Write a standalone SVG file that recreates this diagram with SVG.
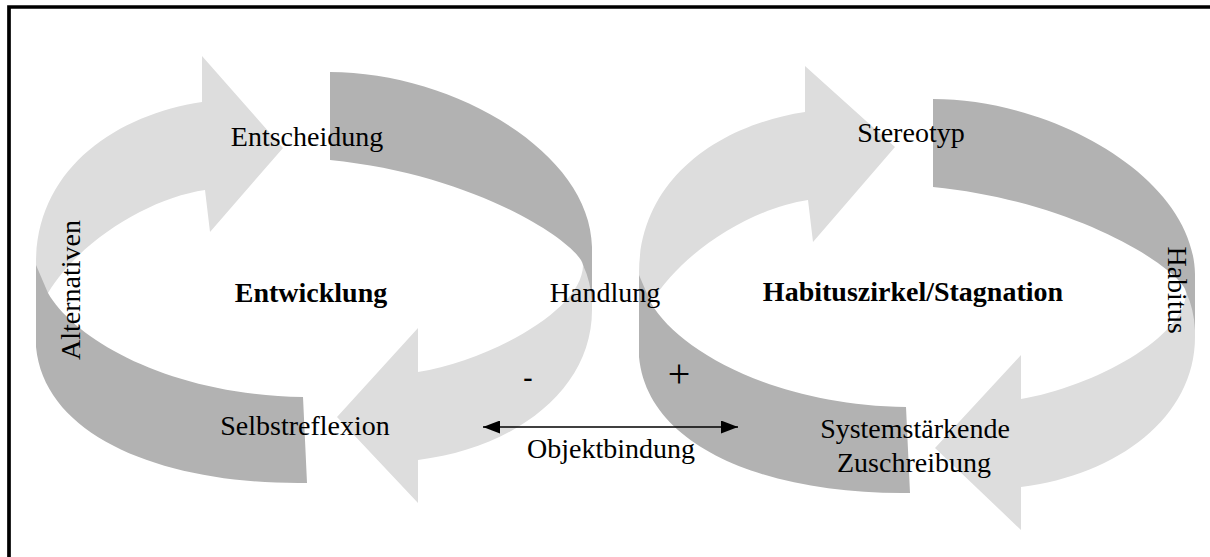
<svg xmlns="http://www.w3.org/2000/svg" width="1210" height="557" viewBox="0 0 1210 557">
<defs>
<style>
.light{fill:#dddddd}
.dark{fill:#b2b2b2}
.t{font-family:"Liberation Serif","Times New Roman",serif;font-size:28px;fill:#000;text-anchor:middle}
.b{font-weight:bold}
.frame{fill:none;stroke:#000;stroke-width:3.7}
.conn{stroke:#000;stroke-width:1.6;fill:none}
</style>
<marker id="ah" viewBox="0 0 17 13" refX="17" refY="6.5" markerWidth="17" markerHeight="13" markerUnits="userSpaceOnUse" orient="auto-start-reverse">
<path d="M0,0 L17,6.5 L0,13 Z" fill="#000"/>
</marker>
</defs>
<rect width="1210" height="557" fill="#fff"/>
<path class="frame" d="M9,557 L9,7 L1210,7"/>

<g id="loop-left">
<path class="light" d="M36,300 L36,265 C35,170 115,115 202,102 L202,56 L283,148 L210,232 L205,190 C150,198 80,240 48,293 L40,305 Z"/>
<path class="dark" d="M36,265 L48,293 C75,340 170,395 303,397 L307,483 C170,485 45,440 36,347 Z"/>
<path class="dark" d="M330,72 C450,72 590,150 592,247 L592,310 L583,265 C580,245 480,175 330,160 Z"/>
<path class="light" d="M583,265 Q591,282 592,303 L592,310 C592,390 515,448 418,460 L418,503 L337,417 L418,328 L418,372 C490,360 583,310 583,265 Z"/>
</g>

<g id="loop-right">
<g transform="translate(603,10)">
<path class="light" d="M36,300 L36,265 C35,170 115,115 202,102 L202,56 L292,137 L210,232 L205,190 C150,198 80,240 48,293 L40,305 Z"/>
<path class="dark" d="M36,265 L48,293 C75,340 170,395 303,397 L307,483 C170,485 45,440 36,347 Z"/>
</g>
<g transform="translate(603,27)">
<path class="dark" d="M330,72 C450,72 590,150 592,247 L592,310 L583,265 C580,245 480,175 330,160 Z"/>
<path class="light" d="M583,265 Q591,282 592,303 L592,310 C592,390 515,448 418,460 L418,503 L332,421 L418,328 L418,372 C490,360 583,310 583,265 Z"/>
</g>
</g>

<g id="node-entscheidung"><text class="t" x="307" y="146">Entscheidung</text></g>
<g id="node-alternativen"><text class="t" transform="translate(80,290) rotate(-90)">Alternativen</text></g>
<g id="node-entwicklung"><text class="t b" x="311" y="302">Entwicklung</text></g>
<g id="node-handlung"><text class="t" x="605" y="302">Handlung</text></g>
<g id="node-selbstreflexion"><text class="t" x="305" y="435">Selbstreflexion</text></g>
<g id="node-minus"><text class="t b" x="528" y="386">-</text></g>
<g id="node-plus"><text class="t" x="679" y="387" style="font-size:40px">+</text></g>
<g id="node-stereotyp"><text class="t" x="911" y="142">Stereotyp</text></g>
<g id="node-habituszirkel"><text class="t b" x="913" y="301">Habituszirkel/Stagnation</text></g>
<g id="node-habitus"><text class="t" transform="translate(1168,290) rotate(90)">Habitus</text></g>
<g id="node-zuschreibung"><text class="t" x="915" y="438">Systemstärkende</text><text class="t" x="914" y="472">Zuschreibung</text></g>

<g id="connectors">
<line class="conn" x1="483" y1="427" x2="738" y2="427" marker-start="url(#ah)" marker-end="url(#ah)"/>
<text class="t" x="611" y="458">Objektbindung</text>
</g>
</svg>
